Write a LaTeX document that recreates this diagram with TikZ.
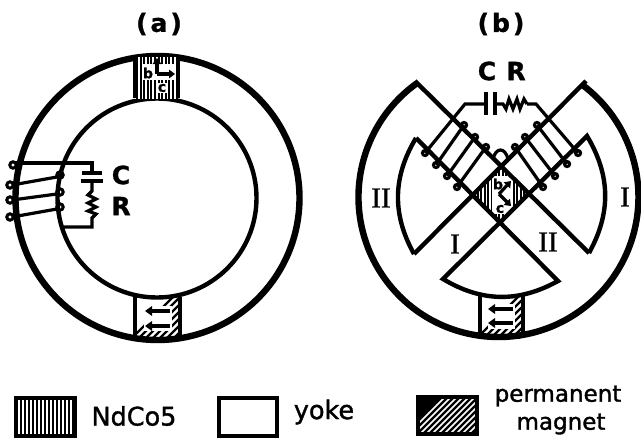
\documentclass[tikz,border=0pt]{standalone}
\usepackage{fontspec}
\setmainfont{DejaVu Sans}
\newfontfamily\fatfont[FakeBold=1.4]{DejaVu Sans}
\newfontfamily\fatbold[FakeBold=1.2]{DejaVu Sans Bold}
\newfontfamily\romanfont[FakeBold=1]{Liberation Serif}
\usetikzlibrary{arrows.meta}
\tikzset{
  heavy/.style={line width=6.4pt},
  medium/.style={line width=4.4pt},
  wire/.style={line width=3.2pt},
  curl/.style={line width=3pt},
  hatchv/.style={line width=2.1pt},
  hatchd/.style={line width=2.4pt},
  flux/.style={line width=4pt,-{Triangle[length=7pt,width=9.5pt]}},
  axis/.style={line width=3.2pt,-{Triangle[length=6pt,width=8.5pt]}},
  title/.style={font=\fatbold\fontsize{25}{25}\selectfont},
  crlabel/.style={font=\fatbold\fontsize{25}{25}\selectfont},
  axlabel/.style={font=\fatbold\fontsize{14}{14}\selectfont,fill=white,inner sep=0.6pt},
  roman/.style={font=\romanfont\fontsize{29}{29}\selectfont},
  legend/.style={font=\fatfont\fontsize{25.5}{25.5}\selectfont},
  legendsmall/.style={font=\fatfont\fontsize{23}{23}\selectfont},
}
\begin{document}
\begin{tikzpicture}[x=1pt,y=-1pt]
\useasboundingbox (0,0) rectangle (641,439);
\fill[white] (0,0) rectangle (641,439);
% ---------- (a)
\node[title] (ta) at (159,24) {(\hspace{3pt}a\hspace{3pt})};
\draw[heavy] (157.5,198) circle[radius=142];
\draw[medium] (157,198) circle[radius=99.5];
% top NdCo5 block
\begin{scope}
\clip (135,57) rectangle (178,98);
\fill[white] (135,50) rectangle (178,100);
\foreach \x in {137,140.6,...,178} \draw[hatchv] (\x,50) -- (\x,100);
\fill[white] (142,64) rectangle (178,80);
\end{scope}
\draw[medium] (135,57) -- (135,98) (178,57) -- (178,98);
\node[axlabel] (ab) at (148,73) {b};
\node[axlabel] (ac) at (162,88) {c};
\coordinate (ao) at (157,74);
\draw[axis] (ao) -- (157,58);
\draw[axis] (ao) -- (175,74);
% bottom magnet
\begin{scope}
\clip (135,297) rectangle (180,339);
\foreach \k in {0,7,...,90} \draw[hatchd] (125+\k,345) -- (125+\k+60,285);
\fill[white] (144,306) rectangle (172,331);
\end{scope}
\draw[medium] (135,297) -- (135,339) (180,297) -- (180,339);
\draw[flux] (170,311) -- (145,311);
\draw[flux] (170,326) -- (145,326);
% coil (a)
\foreach \p/\q in {10/185,10/200,10/217,13/165}
  \draw[curl] (\p,\q) circle[radius=3.2];
\foreach \q in {175,192,207}
  \draw[curl] (60,\q) circle[radius=3.2];
\draw[wire] (15,163) -- (92,163) -- (92,173);
\draw[wire] (12,185) -- (57,177);
\draw[wire] (12,200) -- (57,194);
\draw[wire] (12,217) -- (57,209);
\draw[medium] (82,173) -- (102,173);
\draw[medium] (81,181) -- (103,181);
\draw[wire] (92,181) -- (92,191) -- (88,195) -- (96,199) -- (88,203) -- (96,207) -- (88,211) -- (96,214) -- (92,218) -- (92,227) -- (60,227);
\node[crlabel] (ca) at (121,175) {C};
\node[crlabel] (ra) at (121,206) {R};
% ---------- (b)
\node[title] (tb) at (501,24) {(\hspace{3pt}b\hspace{3pt})};
% magnet
\begin{scope}
\clip (480,296) rectangle (523,338);
\foreach \k in {0,7,...,90} \draw[hatchd] (470+\k,345) -- (470+\k+60,285);
\fill[white] (488,304) rectangle (515,329);
\end{scope}
\draw[medium] (480,296) -- (480,338) (523,296) -- (523,338);
\draw[flux] (513,309) -- (488,309);
\draw[flux] (513,323) -- (488,323);
% NdCo5 diamond
\begin{scope}
\clip (501,166) -- (529,194) -- (500.5,222.5) -- (472.7,194.7) -- cycle;
\foreach \x in {474,477.6,...,530} \draw[hatchv] (\x,160) -- (\x,230);
\fill[white] (492,176) rectangle (513,214);
\end{scope}
\node[axlabel] (bb) at (498,184) {b};
\node[axlabel] (bc) at (500,209) {c};
\coordinate (bo) at (499,194);
\draw[axis] (bo) -- (511,181);
\draw[axis] (bo) -- (511,206);
% yoke, outer
\draw[heavy,line join=miter] (416.7,83.4) arc[start angle=234.25,end angle=-52.97,radius=140];
\draw[medium,line join=miter] (589,253) -- (415,81);
\draw[medium,line join=miter] (586,81) -- (414,254);
% pole sectors
\draw[medium,line join=miter] (416,138) -- (558,281) to[bend left=30] (443,279) -- (587,136) to[bend left=30] (589,253);
\draw[medium,line join=miter] (414,254) to[bend left=30] (416,138);
\node[roman] (r1) at (381,198) {II};
\node[roman] (r2) at (455,244) {I};
\node[roman] (r3) at (625,197) {I};
\node[roman] (r4) at (548,242) {II};
% coils (b)
\foreach \p/\q in {425/153,436/165,447/176,457/187,464/125,475/137,486/147,
                   578/153,567/164,555/176,543/187,537/125,525/137,515/147}
  \draw[curl] (\p,\q) circle[radius=2.6];
\draw[wire] (425,153) -- (465,104) -- (486,104);
\draw[wire] (436,165) -- (464,125);
\draw[wire] (447,176) -- (475,137);
\draw[wire] (457,187) -- (486,147);
\draw[wire] (578,153) -- (536,104) -- (527,104);
\draw[wire] (567,164) -- (537,125);
\draw[wire] (555,176) -- (525,137);
\draw[wire] (543,187) -- (515,147);
\draw[wire] (493,159) .. controls (496,147) and (505,147) .. (508,159);
\draw[medium] (486,92) -- (486,115);
\draw[medium] (495,92) -- (495,115);
\draw[wire] (495,104) -- (503,104) -- (506,109) -- (509,99) -- (513,109) -- (517,99) -- (520,109) -- (524,99) -- (527,104);
\node[crlabel] (cb) at (487,71) {C};
\node[crlabel] (rb) at (516,71) {R};
% ---------- legend
\begin{scope}
\clip (15,397) rectangle (76,437);
\foreach \x in {17,21,...,77} \draw[line width=2.4pt] (\x,395) -- (\x,440);
\end{scope}
\draw[medium] (16,398) rectangle (75,436);
\node[legend] (l1) at (134,416) {NdCo5};
\draw[medium] (219,398) rectangle (277,436);
\node[legend] (l2) at (324,412) {yoke};
\begin{scope}
\clip (417,396) rectangle (478,435);
\fill[black] (417,396) rectangle (478,435);
\foreach \k in {0,6,...,114} \draw[white,line width=1.6pt] (402+\k,440) -- (402+\k+48,392);
\end{scope}
\draw[medium] (418,397) rectangle (477,434);
\node[legendsmall] (l3) at (558,396) {permanent};
\node[legendsmall] (l4) at (561,424) {magnet};
\end{tikzpicture}
\end{document}
